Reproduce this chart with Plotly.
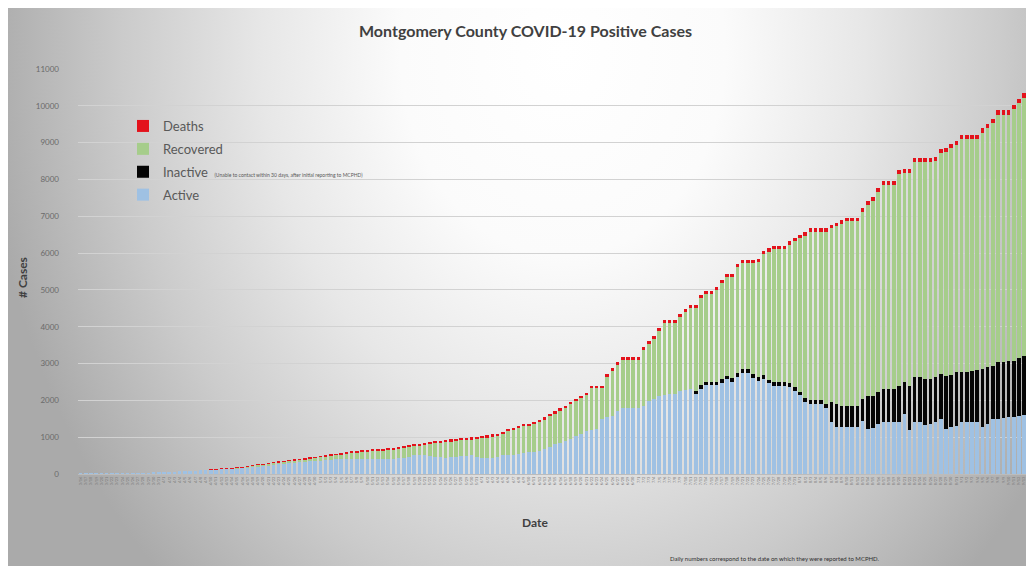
import base64
import pandas as pd
import plotly.graph_objects as go

# ---- data (cumulative cases per reporting day) ----
dates = [d.strftime("%-m/%-d") for d in pd.date_range("2020-03-16", periods=183, freq="D")]

# height of the whole stacked bar (top of the red marker)
total = [1, 1, 2, 3, 4, 5, 6, 8, 10, 12, 15, 18, 22, 27, 33,
         40, 48, 56, 65, 72, 80, 86, 95, 105, 115, 125, 135, 145, 155, 160, 170,
         185, 205, 225, 250, 270, 290, 310, 330, 350, 370, 390, 405, 420, 440, 460, 480, 500,
         520, 540, 560, 580, 600, 620,
         630, 645, 655, 665, 675, 690, 700,
         720, 745, 770, 795, 820, 850, 865, 885,
         900, 920, 940, 960, 975, 990, 1000, 1010, 1040, 1055, 1080, 1100, 1145, 1220, 1260,
         1300, 1355, 1370, 1420, 1470, 1540, 1625, 1700, 1780, 1850, 1960, 2050, 2125, 2200,
         2400, 2400, 2400, 2715, 2880, 3035, 3170, 3170, 3170, 3170, 3445, 3600, 3745, 3960,
         4170, 4170, 4170, 4350, 4490, 4580, 4580,
         4870, 4960, 4960, 5080, 5260, 5440, 5440, 5700, 5805, 5805, 5805, 5850, 6060, 6130,
         6195, 6195, 6195, 6320, 6415, 6505, 6560, 6670, 6670, 6670, 6670, 6775, 6830, 6895,
         6960, 6960, 6960, 7230, 7410, 7530, 7775, 7960, 7960, 7960, 8255,
         8275, 8275, 8590, 8590, 8590, 8590, 8620, 8820, 8865, 8965, 9055, 9210, 9210, 9210,
         9210, 9390, 9510, 9645, 9875, 9875, 9875, 10030, 10190, 10345, 10455]

active = [1, 1, 2, 3, 4, 5, 6, 8, 10, 12, 15, 18, 22, 27, 33,
          40, 48, 56, 65, 72, 80, 86, 95, 105, 115,
          124, 134, 143, 145, 150, 155,
          165, 175, 190, 205, 220, 235, 250, 265, 280, 295, 305, 315, 325, 340, 355, 365, 380,
          390, 395, 400, 405, 410, 410,
          405, 405, 400, 400, 405, 410, 420, 430, 440, 450,
          520, 520, 510, 490, 470, 450, 445, 450, 460, 480, 500, 510, 460, 445, 445, 445, 450,
          510, 515, 520, 540, 565, 590, 610, 630, 680, 720, 810, 850, 900, 960, 1035, 1080,
          1170, 1200, 1220,
          1490, 1540, 1580, 1715, 1780, 1780, 1780, 1780, 1855, 1990, 2050, 2125, 2150, 2160,
          2170, 2260, 2280, 2310, 2160,
          2320, 2410, 2410, 2410, 2480, 2570, 2500, 2645, 2755, 2755, 2620, 2525, 2590, 2460,
          2390, 2390, 2390, 2360, 2255, 2135, 1955, 1910, 1910, 1910, 1800,
          1400, 1290, 1265, 1265, 1265, 1265, 1445, 1220, 1240, 1355, 1400, 1400, 1400, 1420,
          1625, 1200, 1400, 1400, 1325, 1360, 1400, 1490, 1235, 1290, 1310, 1415, 1400, 1400,
          1400, 1290, 1355, 1490, 1490, 1510, 1535, 1535, 1580, 1600, 1625]

inactive = ([0] * 118 + [100] * 26 +
            [560, 610, 590, 590, 590, 590, 590, 890, 870, 860, 910, 910, 910, 980,
             880, 1200, 1225, 1225, 1255, 1220, 1225, 1225, 1435, 1400, 1450, 1345, 1360,
             1405, 1430, 1565, 1545, 1455, 1545, 1525, 1525, 1545, 1565, 1615, 1665])

deaths = ([0] * 25 +
          [1, 1, 2, 2, 3, 3, 4, 4, 5, 5,
           6, 6, 7, 8, 9, 10, 11, 12, 13, 14, 15, 16, 17, 18, 19,
           20, 21, 22, 23, 24, 25, 26, 27, 28, 29, 30, 31, 32, 33, 34, 36, 38, 40, 42, 44,
           45, 46, 47, 48, 49, 50, 50, 51, 52, 53, 54, 55, 55, 56, 57, 58, 58, 59, 60, 60,
           61, 62, 62, 63, 64, 64, 65, 66, 66, 67,
           68, 68, 69, 70, 70, 71, 72, 72, 73, 74, 74, 75, 76, 76, 77, 78, 78, 79, 80, 80,
           81, 82, 82, 83, 84, 84, 85, 86, 86, 87, 88, 88, 89, 90, 90, 91, 92, 92, 93, 94,
           94, 95, 96, 96, 97, 98, 98, 99, 100, 100, 101, 102, 102, 103, 104, 104, 105, 106,
           106, 107,
           108, 108, 109, 110, 110, 111, 112, 112, 113, 114, 114, 115, 116, 116, 117, 118,
           118, 119, 120, 120, 121, 122, 122])

# recovered = what remains of each bar after the other three parts
recovered = [t - a - i - d for t, a, i, d in zip(total, active, inactive, deaths)]

# ---- layout (page is drawn with an 8px offset from the window corner) ----
OFF = 8
W, H = 1026, 558
ML, MR, MT, MB = 70, 2, 61, 92
PW, PH = W - ML - MR, H - MT - MB


def px(x_page):
    return (x_page - OFF - ML) / PW


def py(y_page):
    return (H - MB - (y_page - OFF)) / PH


svg = f"""<svg xmlns='http://www.w3.org/2000/svg' width='{W}' height='{H}' viewBox='0 0 {W} {H}' preserveAspectRatio='none'>
<defs><radialGradient id='g' gradientUnits='userSpaceOnUse' cx='555' cy='45' r='580'
 gradientTransform='translate(555 45) scale(1 1.25) translate(-555 -45)'>
<stop offset='0' stop-color='#ffffff'/><stop offset='0.28' stop-color='#fbfbfb'/>
<stop offset='0.52' stop-color='#e7e7e7'/><stop offset='0.76' stop-color='#cbcbcb'/>
<stop offset='1' stop-color='#aaaaaa'/></radialGradient></defs>
<rect width='{W}' height='{H}' fill='url(#g)'/></svg>"""
bg_uri = "data:image/svg+xml;base64," + base64.b64encode(svg.encode()).decode()

FONT = "Lato"
fig = go.Figure()
series = [("Active", active, "#9fc1e3", 4),
          ("Inactive  <span style='font-size:5px'>(Unable to contact within 30 days, after initial reporting to MCPHD)</span>",
           inactive, "#050505", 3),
          ("Recovered", recovered, "#a6cd8b", 2),
          ("Deaths", deaths, "#e3121b", 1)]
for name, vals, col, rank in series:
    fig.add_trace(go.Bar(x=dates, y=vals, name=name, marker=dict(color=col, line=dict(width=0)),
                         legendgroup=name, legendrank=rank))

fig.update_layout(
    width=W, height=H,
    margin=dict(l=ML, r=MR, t=MT, b=MB),
    barmode="stack", bargap=0.32,
    paper_bgcolor="white", plot_bgcolor="rgba(0,0,0,0)",
    font=dict(family=FONT, color="#595959"),
    images=[dict(source=bg_uri, xref="paper", yref="paper", x=-ML / PW, y=1 + MT / PH,
                 sizex=W / PW, sizey=H / PH, xanchor="left", yanchor="top",
                 sizing="stretch", layer="below")],
    showlegend=True,
    legend=dict(x=px(123), y=py(111), xanchor="left", yanchor="top",
                traceorder="grouped", tracegroupgap=3,
                bgcolor="rgba(0,0,0,0)", font=dict(size=13, color="#595959", family=FONT),
                itemwidth=30),
    annotations=[
        dict(text="<b>Montgomery County COVID-19 Positive Cases</b>", x=px(525), y=py(31),
             xref="paper", yref="paper", xanchor="center", yanchor="middle",
             showarrow=False, font=dict(size=16, color="#404040")),
        dict(text="<b># Cases</b>", x=px(22), y=py(278), xref="paper", yref="paper",
             xanchor="center", yanchor="middle",
             showarrow=False, textangle=-90, font=dict(size=12, color="#404040")),
        dict(text="<b>Date</b>", x=px(535), y=py(522), xref="paper", yref="paper",
             xanchor="center", yanchor="middle",
             showarrow=False, font=dict(size=12, color="#404040")),
        dict(text="Daily numbers correspond to the date on which they were reported to MCPHD.",
             x=px(668), y=py(558), xref="paper", yref="paper", xanchor="left", yanchor="middle",
             showarrow=False, font=dict(size=6, color="#303030")),
    ],
)
fig.update_yaxes(range=[0, 11000], dtick=1000, tickformat="d", showgrid=True,
                 gridcolor="#d2d2d2", gridwidth=1, zeroline=False,
                 tickfont=dict(size=8, color="#6a6a6a"), ticklabelstandoff=18, showline=False)
fig.update_xaxes(type="category", tickmode="array", tickvals=dates, ticktext=dates,
                 tickangle=-90, tickfont=dict(size=4, color="#7a7a7a"), showline=True,
                 linecolor="#bcbcbc", linewidth=1, showgrid=False)

fig.write_html("out.html")
